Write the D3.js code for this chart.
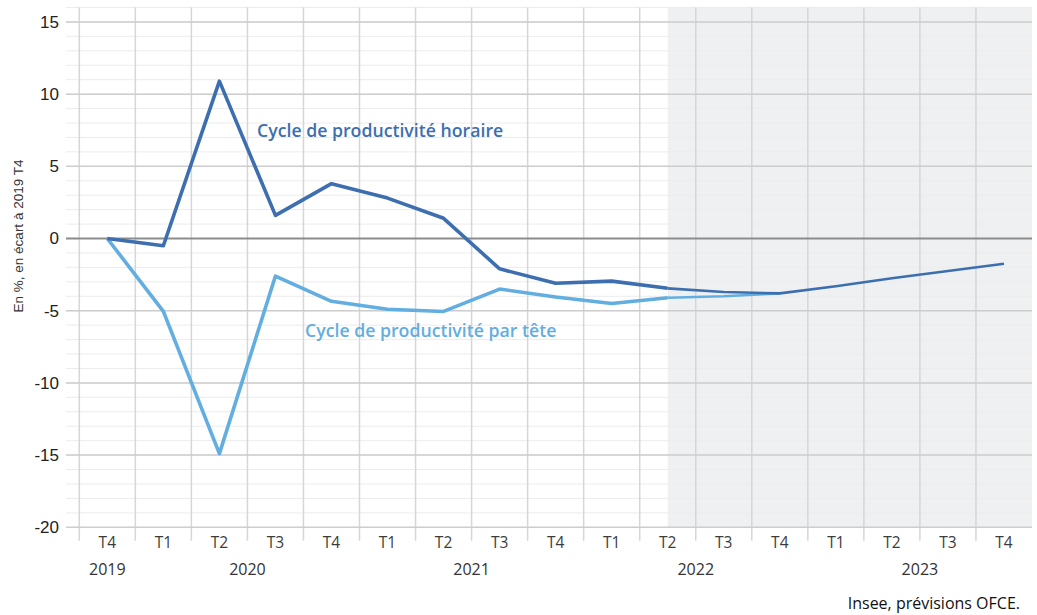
<!DOCTYPE html>
<html>
    <head>
        <meta charset="utf-8" />
        <title>Cycle de productivité</title>
        <script src="https://d3js.org/d3.v7.min.js"></script>
        <style>
            body {
                margin: 0px;
                background: #ffffff;
            }
            .domain {
                display: none;
            }
            .ytick text {
                fill: #222222;
                font-size: 17px;
                font-family: "Liberation Sans", Arial, sans-serif;
            }
            .xtick text {
                fill: #3c3c3c;
                font-size: 15.5px;
                font-family: "Open Sans", sans-serif;
            }
            .year-label {
                fill: #333333;
                font-size: 16px;
                font-family: "Open Sans", sans-serif;
            }
            .axis-label {
                fill: #333333;
                font-size: 13.5px;
                font-family: "Liberation Sans", Arial, sans-serif;
            }
            .series-label {
                font-size: 17.7px;
                font-family: "Open Sans", sans-serif;
                font-weight: 600;
            }
            .source {
                fill: #111111;
                font-size: 16px;
                font-family: "Open Sans", sans-serif;
            }
        </style>
    </head>
    <body>
        <script type="text/javascript">

            // quarters shown on the x axis
            var quarters = ["T4", "T1", "T2", "T3", "T4", "T1", "T2", "T3", "T4",
                            "T1", "T2", "T3", "T4", "T1", "T2", "T3", "T4"];
            // year of each quarter
            var quarterYears = [2019, 2020, 2020, 2020, 2020, 2021, 2021, 2021, 2021,
                                2022, 2022, 2022, 2022, 2023, 2023, 2023, 2023];
            var years = [2019, 2020, 2021, 2022, 2023];

            // cycle de productivité horaire (écart en % à 2019 T4)
            var horaire = [0, -0.5, 10.9, 1.6, 3.8, 2.8, 1.4, -2.1, -3.1,
                           -2.95, -3.45, -3.7, -3.8, -3.3, -2.75, -2.25, -1.75];
            // cycle de productivité par tête (ends in 2022 T4)
            var parTete = [0, -5.05, -14.9, -2.6, -4.35, -4.9, -5.05, -3.5, -4.05,
                           -4.5, -4.1, -4.0, -3.8];

            // first quarter of the forecast (shaded) part
            var forecastStart = 10;

            var yTicks = [-20, -15, -10, -5, 0, 5, 10, 15];

            var width = 1037, height = 615;
            var plotLeft = 79.3, plotRight = 1032, plotTop = 7.5, plotBottom = 527.3;

            var svg = d3.select("body").append("svg")
                .attr("width", width)
                .attr("height", height);

            var keys = quarters.map((q, i) => i);

            var x = d3.scaleBand()
                .domain(keys)
                .range([plotLeft, plotRight]);

            var y = d3.scaleLinear()
                .domain([-20, 16])
                .range([plotBottom, plotTop]);

            var cx = i => x(i) + x.bandwidth() / 2;

            // shaded forecast zone
            svg.append("rect")
                .attr("x", cx(forecastStart))
                .attr("y", plotTop)
                .attr("width", plotRight - cx(forecastStart))
                .attr("height", plotBottom - plotTop)
                .attr("fill", "#eff0f2");

            // minor horizontal grid (every unit)
            svg.append("g")
                .selectAll("line")
                .data(d3.range(-19, 17))
                .enter()
                .append("line")
                    .attr("x1", 66).attr("x2", plotRight)
                    .attr("y1", d => y(d)).attr("y2", d => y(d))
                    .attr("stroke", "#ececec")
                    .attr("stroke-width", 1);

            // vertical grid at quarter boundaries, running down as tick marks
            svg.append("g")
                .selectAll("line")
                .data(keys)
                .enter()
                .append("line")
                    .attr("x1", d => x(d)).attr("x2", d => x(d))
                    .attr("y1", plotTop).attr("y2", plotBottom + 13.5)
                    .attr("stroke", "#d6d6d6")
                    .attr("stroke-width", 1.5);

            // major horizontal grid
            svg.append("g")
                .selectAll("line")
                .data(yTicks.filter(d => d != 0))
                .enter()
                .append("line")
                    .attr("x1", 66).attr("x2", plotRight)
                    .attr("y1", d => y(d)).attr("y2", d => y(d))
                    .attr("stroke", "#cdcdcd")
                    .attr("stroke-width", 1.5);

            // zero line
            svg.append("line")
                .attr("x1", 66).attr("x2", plotRight)
                .attr("y1", y(0)).attr("y2", y(0))
                .attr("stroke", "#8c8c8c")
                .attr("stroke-width", 2);

            // Y axis labels (plain hyphen for negatives, as in the source)
            svg.append("g")
                .attr("class", "ytick")
                .attr("transform", "translate(66,0)")
                .call(d3.axisLeft(y).tickValues(yTicks).tickSize(0).tickPadding(7)
                    .tickFormat(d => String(d)));

            // X axis: quarters
            svg.append("g")
                .attr("class", "xtick")
                .attr("transform", "translate(0," + (plotBottom + 4) + ")")
                .call(d3.axisBottom(x).tickSize(0).tickPadding(6).tickFormat(i => quarters[i]));

            // X axis: years centred under their quarters
            svg.append("g")
                .selectAll("text")
                .data(years)
                .enter()
                .append("text")
                    .attr("class", "year-label")
                    .attr("text-anchor", "middle")
                    .attr("x", yr => d3.mean(keys.filter(i => quarterYears[i] == yr), cx))
                    .attr("y", plotBottom + 48)
                    .text(yr => yr);

            // Y axis title
            svg.append("text")
                .attr("class", "axis-label")
                .attr("text-anchor", "middle")
                .attr("transform", "translate(23,236) rotate(-90)")
                .text("En %, en écart à 2019 T4");

            // the two series, thicker before the forecast
            var line = d3.line()
                .x(d => cx(d.i))
                .y(d => y(d.v));

            function drawSeries(values, color) {
                var pts = values.map((v, i) => ({i: i, v: v}));
                svg.append("path")
                    .datum(pts.filter(d => d.i <= forecastStart))
                    .attr("d", line)
                    .attr("fill", "none")
                    .attr("stroke", color)
                    .attr("stroke-width", 3.6)
                    .attr("stroke-linejoin", "round");
                svg.append("path")
                    .datum(pts.filter(d => d.i >= forecastStart))
                    .attr("d", line)
                    .attr("fill", "none")
                    .attr("stroke", color)
                    .attr("stroke-width", 2.6)
                    .attr("stroke-linejoin", "round");
            }

            drawSeries(parTete, "#62aee0");
            drawSeries(horaire, "#3d6fb0");

            // series labels
            svg.append("text")
                .attr("class", "series-label")
                .attr("x", 257)
                .attr("y", 137)
                .attr("fill", "#3d6fb0")
                .text("Cycle de productivité horaire");

            svg.append("text")
                .attr("class", "series-label")
                .attr("x", 305)
                .attr("y", 337)
                .attr("fill", "#62aee0")
                .text("Cycle de productivité par tête");

            // source
            svg.append("text")
                .attr("class", "source")
                .attr("text-anchor", "end")
                .attr("x", 1020)
                .attr("y", 609)
                .text("Insee, prévisions OFCE.");

        </script>
    </body>
</html>
